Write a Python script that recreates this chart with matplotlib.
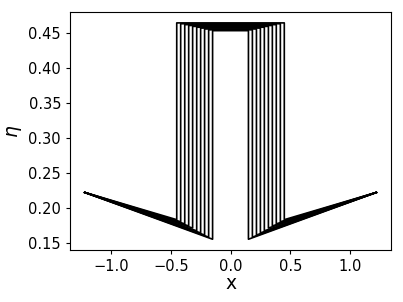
import numpy as np
import matplotlib
matplotlib.use("Agg")
import matplotlib.pyplot as plt

# half-widths of the inner channel, bottom and top heights for each curve
half_width = [0.15, 0.183, 0.217, 0.25, 0.283, 0.317, 0.35, 0.383, 0.417, 0.45]
eta_bottom = [0.155, 0.158, 0.161, 0.164, 0.167, 0.171, 0.174, 0.177, 0.180, 0.183]
eta_top = [0.4536, 0.4548, 0.4560, 0.4573, 0.4585, 0.4597, 0.4610, 0.4622, 0.4635, 0.4647]
x_end = 1.22
eta_end = 0.222

fig, ax = plt.subplots(figsize=(4.03, 3.02), dpi=100)
fig.subplots_adjust(left=0.174, right=0.970, top=0.960, bottom=0.172)

for a, b, c in zip(half_width, eta_bottom, eta_top):
    xs = [-x_end, -a, -a, a, a, x_end]
    ys = [eta_end, b, c, c, b, eta_end]
    ax.plot(xs, ys, color="black", lw=1.2)

ax.set_xlabel("x", fontsize=13.5, labelpad=0)
ax.set_ylabel(r"$\eta$", fontsize=13.5, labelpad=3)
ax.tick_params(labelsize=10.5, length=3)
ax.set_xticks([-1.0, -0.5, 0.0, 0.5, 1.0])

fig.savefig("out.png", dpi=100)
